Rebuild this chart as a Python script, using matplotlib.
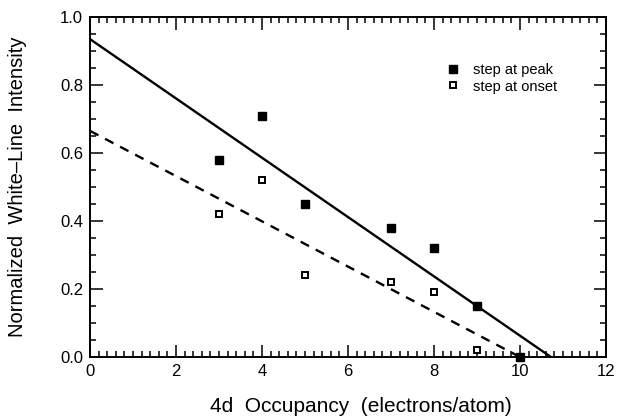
import matplotlib
matplotlib.use("Agg")
import matplotlib.pyplot as plt
import numpy as np
from matplotlib.ticker import MultipleLocator

plt.rcParams['font.family'] = ['Liberation Sans', 'DejaVu Sans']

# Data
occ_peak = [3, 4, 5, 7, 8, 9, 10]
int_peak = [0.58, 0.71, 0.45, 0.38, 0.32, 0.15, 0.0]
occ_onset = [3, 4, 5, 7, 8, 9]
int_onset = [0.42, 0.52, 0.24, 0.22, 0.19, 0.02]

# Linear fits (intercept, x-intercept)
fit_peak = (0.935, 10.72)
fit_onset = (0.665, 10.0)

fig = plt.figure(figsize=(6.17, 4.19), dpi=100)
ax = fig.add_axes([0.1459, 0.148, 0.8361, 0.8114])

for (b, x0), ls in [(fit_peak, '-'), (fit_onset, (0, (4, 3.2)))]:
    xs = np.array([0, x0])
    ax.plot(xs, b - b / x0 * xs, color='black', lw=1.7, ls=ls)

ax.plot(occ_peak, int_peak, 's', color='black', ms=6, ls='none',
        label='step at peak', clip_on=False, zorder=3)
ax.plot(occ_onset, int_onset, 's', mfc='white', mec='black', mew=1.4, ms=5,
        ls='none', label='step at onset', clip_on=False, zorder=3)

ax.set_xlim(0, 12)
ax.set_ylim(0, 1.0)
ax.xaxis.set_minor_locator(MultipleLocator(0.2))
ax.yaxis.set_minor_locator(MultipleLocator(0.05))
ax.set_xticks(np.arange(0, 13, 2))
ax.set_xticklabels(['0', '2', '4', '6', '8', '10', '12'])
ax.set_yticks(np.arange(0, 1.01, 0.2))
ax.set_yticklabels(['0.0', '0.2', '0.4', '0.6', '0.8', '1.0'])
ax.tick_params(which='both', direction='in', top=True, right=True, labelsize=12, width=1.1)
ax.tick_params(which='major', length=9, pad=5)
ax.tick_params(which='minor', length=4.5)
for s in ax.spines.values():
    s.set_linewidth(1.4)

ax.set_xlabel('4d  Occupancy  (electrons/atom)', fontsize=15, labelpad=13)
ax.xaxis.label.set_x(0.525)
ax.set_ylabel('Normalized  White\u2013Line  Intensity', fontsize=14.5, labelpad=24)

ax.legend(loc='upper left', bbox_to_anchor=(0.68, 0.885), frameon=False, fontsize=10.5,
          handlelength=0.7, handletextpad=1.0, labelspacing=0.15, borderpad=0,
          markerscale=0.85)

fig.savefig('out.png', dpi=100)
